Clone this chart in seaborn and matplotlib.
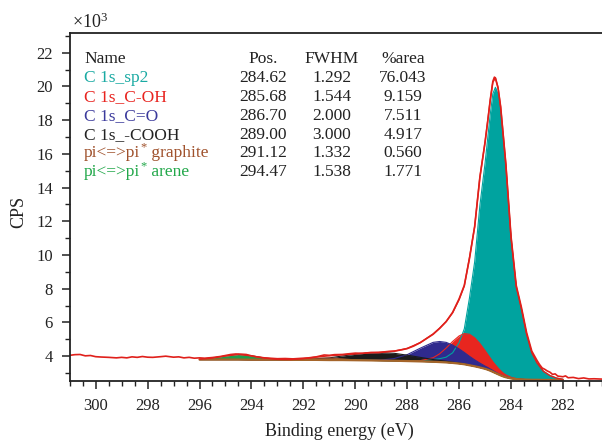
import matplotlib
matplotlib.use("Agg")
import matplotlib.pyplot as plt
from matplotlib.ticker import MultipleLocator
import numpy as np
import seaborn as sns

# C 1s fit, counts in thousands (axis shows x10^3)
energy = [296, 295.5, 295, 294.5, 294, 293.5, 293, 292.5, 292, 291.5, 291, 290.5,
          290, 289.5, 289, 288.5, 288, 287.5, 287, 286.75, 286.5, 286.25, 286,
          285.8, 285.6, 285.4, 285.2, 285.0, 284.9, 284.8, 284.7, 284.6, 284.5,
          284.4, 284.3, 284.2, 284.0, 283.8, 283.6, 283.4, 283.2, 283.0, 282.75,
          282.5, 282.25, 282.0]
background = [3.80, 3.80, 3.80, 3.80, 3.79, 3.79, 3.79, 3.78, 3.78, 3.78, 3.77,
              3.77, 3.76, 3.75, 3.74, 3.73, 3.71, 3.69, 3.67, 3.65, 3.63, 3.60,
              3.56, 3.52, 3.46, 3.40, 3.33, 3.25, 3.20, 3.14, 3.07, 3.00, 2.93,
              2.86, 2.80, 2.75, 2.68, 2.64, 2.62, 2.61, 2.60, 2.60, 2.59, 2.59,
              2.58, 2.58]

# component heights above the background
sp2 = [0.0] * 16 + [0.02, 0.05, 0.13, 0.20, 0.31, 0.60, 1.25, 2.10, 4.00, 6.20,
                    9.60, 12.20, 13.70, 15.20, 16.50, 16.95, 16.60, 15.60, 14.10,
                    12.50, 8.30, 5.46, 4.18, 2.69, 1.60, 1.00, 0.51, 0.26, 0.12, 0.05]
c_oh = [0.0] * 17 + [0.04, 0.24, 0.49, 0.85, 1.27, 1.64, 1.82, 1.84, 1.69, 1.42,
                     1.08, 0.91, 0.75, 0.60, 0.48, 0.37, 0.28, 0.20, 0.14, 0.07,
                     0.03, 0.01] + [0.0] * 7
c_o = [0.0] * 13 + [0.01, 0.03, 0.13, 0.38, 0.78, 1.15, 1.22, 1.19, 1.06, 0.87,
                    0.70, 0.53, 0.38, 0.26, 0.16, 0.13, 0.10, 0.08, 0.06, 0.04,
                    0.03, 0.02, 0.02, 0.01] + [0.0] * 9
cooh = [0.0] * 7 + [0.01, 0.03, 0.07, 0.13, 0.24, 0.35, 0.44, 0.47, 0.44, 0.35,
                    0.24, 0.13, 0.10, 0.07, 0.04, 0.03, 0.02, 0.01, 0.01] + [0.0] * 20
graphite = [0.0] * 7 + [0.01, 0.04, 0.10, 0.12, 0.07, 0.02] + [0.0] * 33
arene = [0.02, 0.09, 0.21, 0.30, 0.23, 0.10, 0.02] + [0.0] * 39

envelope = [3.82, 3.89, 4.01, 4.10, 4.02, 3.89, 3.81, 3.80, 3.85, 3.95, 4.02, 4.08,
            4.13, 4.20, 4.24, 4.30, 4.46, 4.80, 5.32, 5.66, 6.05, 6.57, 7.35, 8.16,
            9.84, 11.68, 14.61, 16.69, 17.94, 19.19, 20.25, 20.49, 19.94, 18.77,
            17.12, 15.41, 11.06, 8.13, 6.81, 5.30, 4.20, 3.60, 3.10, 2.85, 2.70, 2.63]

data_energy = [301.0, 300.8, 300.6, 300.4, 300.2, 300.0, 299.8, 299.5, 299.2, 299.0,
               298.8, 298.6, 298.4, 298.2, 298.0, 297.8, 297.5, 297.3, 297.0, 296.8,
               296.6, 296.4, 296.2, 296.0, 295.8, 295.5, 295.2, 295.0, 294.8, 294.6,
               294.4, 294.2, 294.0, 293.8, 293.5, 293.2, 293.0, 292.7, 292.4, 292.1,
               291.8, 291.5, 291.2, 291.0, 290.8, 290.5, 290.2, 290.0, 289.7, 289.4,
               289.1, 288.8, 288.5, 288.2, 288.0, 287.75, 287.5, 287.25, 287.0,
               286.75, 286.5, 286.25, 286.0, 285.8, 285.6, 285.4, 285.2, 285.0,
               284.9, 284.8, 284.7, 284.64, 284.6, 284.5, 284.4, 284.3, 284.2,
               284.0, 283.8, 283.6, 283.4, 283.2, 283.0, 282.9, 282.8, 282.7, 282.6,
               282.5, 282.4, 282.3, 282.2, 282.0, 281.9, 281.8, 281.6, 281.4, 281.2,
               281.0, 280.8, 280.5]
data_counts = [4.05, 4.09, 4.10, 4.02, 4.04, 3.97, 3.95, 3.93, 3.90, 3.93, 3.90, 3.96,
               3.93, 3.98, 3.94, 3.93, 3.97, 4.00, 3.94, 3.96, 3.90, 3.93, 3.88, 3.90,
               3.88, 3.92, 3.98, 4.04, 4.10, 4.13, 4.12, 4.10, 4.02, 3.96, 3.90, 3.87,
               3.85, 3.86, 3.84, 3.87, 3.90, 3.96, 4.07, 4.05, 4.09, 4.10, 4.15, 4.18,
               4.17, 4.22, 4.21, 4.27, 4.30, 4.38, 4.45, 4.60, 4.80, 5.05, 5.30, 5.65,
               6.05, 6.60, 7.40, 8.20, 9.80, 11.7, 14.6, 16.7, 17.9, 19.2, 20.3, 20.55,
               20.5, 19.9, 18.8, 17.1, 15.4, 11.1, 8.2, 6.9, 5.4, 4.3, 3.75, 3.50,
               3.30, 3.22, 3.12, 3.05, 2.92, 2.95, 2.82, 2.78, 2.83, 2.72, 2.74, 2.67,
               2.71, 2.65, 2.66, 2.64]

# names: (before the superscript star, after it); None means no star
names = [("C 1s_sp2", None), ("C 1s_C-OH", None), ("C 1s_C=O", None),
         ("C 1s_-COOH", None), ("pi<=>pi", " graphite"), ("pi<=>pi", " arene")]
positions = ["284.62", "285.68", "286.70", "289.00", "291.12", "294.47"]
fwhm = ["1.292", "1.544", "2.000", "3.000", "1.332", "1.538"]
area = ["76.043", "9.159", "7.511", "4.917", "0.560", "1.771"]

fill_colors = ["#00a39f", "#e8261f", "#2f2a8e", "#1b1b1b", "#a0522d", "#1f9e4b"]
text_colors = ["#1aaaa3", "#e8231e", "#3b3a9c", "#222222", "#a0522d", "#22a84a"]
RED = "#e0201b"
BG_COLOR = "#a5652a"

sns.set_theme(style="ticks")
plt.rcParams["font.family"] = ["Liberation Serif", "DejaVu Serif"]
plt.rcParams["mathtext.fontset"] = "custom"
plt.rcParams["mathtext.rm"] = "Liberation Serif"
plt.rcParams["mathtext.it"] = "Liberation Serif:italic"
plt.rcParams["mathtext.bf"] = "Liberation Serif:bold"

fig = plt.figure(figsize=(6.02, 4.41), dpi=100)
ax = fig.add_axes([0.1158, 0.135, 0.884, 0.7895])

e = np.array(energy)
bg = np.array(background)
components = [sp2, c_oh, c_o, cooh, graphite, arene]

for h, c in zip(components, fill_colors):
    ax.fill_between(e, bg, bg + np.array(h), color=c, lw=0)
for h, c in zip(components, fill_colors):
    ax.plot(e, bg + np.array(h), color=c, lw=0.8)

ax.plot(e, bg, color=BG_COLOR, lw=1.6)
sns.lineplot(x=e, y=envelope, ax=ax, color=RED, lw=1.0, sort=False)
sns.lineplot(x=data_energy, y=data_counts, ax=ax, color=RED, lw=1.2, sort=False)

ax.set_xlim(301.0, 280.5)
ax.set_ylim(2.5, 23.15)
ax.xaxis.set_major_locator(MultipleLocator(2))
ax.xaxis.set_minor_locator(MultipleLocator(0.5))
ax.yaxis.set_major_locator(MultipleLocator(2))
ax.yaxis.set_minor_locator(MultipleLocator(1))
ax.set_yticks(range(4, 23, 2))
ax.tick_params(which="major", direction="out", length=6, width=1.1,
               labelsize=12, pad=6, colors="#222222")
ax.tick_params(which="minor", direction="out", length=3.5, width=1.0,
               colors="#222222")
for s in ["left", "bottom", "top"]:
    ax.spines[s].set_linewidth(1.3)
    ax.spines[s].set_color("#222222")
ax.spines["right"].set_visible(False)
ax.set_xlabel("")
ax.set_ylabel("")

fig.text(339 / 602, 1 - 431 / 441, "Binding energy (eV)", ha="center",
         va="center", fontsize=13, color="#222222")
fig.text(19 / 602, 1 - 212 / 441, "CPS", ha="center", va="center",
         rotation=90, fontsize=13, color="#222222")
fig.text(72 / 602, 1 - 22 / 441, r"$\times10^{3}$", ha="left", va="center",
         fontsize=13, color="#222222")

# fit table, text placed on baselines
header_y = 0.915
row_y = [0.859, 0.806, 0.751, 0.697, 0.644, 0.589]
col_x = [0.0269, 0.364, 0.4928, 0.6262]
fs = 12.5
ax.text(col_x[0], header_y, "Name", transform=ax.transAxes, ha="left",
        va="baseline", fontsize=fs, color="#222222")
for x, head in zip(col_x[1:], ["Pos.", "FWHM", "%area"]):
    ax.text(x, header_y, head, transform=ax.transAxes, ha="center",
            va="baseline", fontsize=fs, color="#222222")
for i, y in enumerate(row_y):
    first, rest = names[i]
    t = ax.text(col_x[0], y, first, transform=ax.transAxes, ha="left",
                va="baseline", fontsize=fs, color=text_colors[i])
    if rest is not None:
        star = ax.annotate("*", xy=(1, y), xycoords=(t, ax.transAxes),
                           xytext=(0.3, 5.0), textcoords="offset points",
                           ha="left", va="baseline", fontsize=9,
                           color=text_colors[i])
        ax.annotate(rest, xy=(1, y), xycoords=(star, ax.transAxes),
                    ha="left", va="baseline", fontsize=fs,
                    color=text_colors[i])
    for x, col in zip(col_x[1:], [positions, fwhm, area]):
        ax.text(x, y, col[i], transform=ax.transAxes, ha="center",
                va="baseline", fontsize=fs, color="#222222")

fig.savefig("out.png", dpi=100)
